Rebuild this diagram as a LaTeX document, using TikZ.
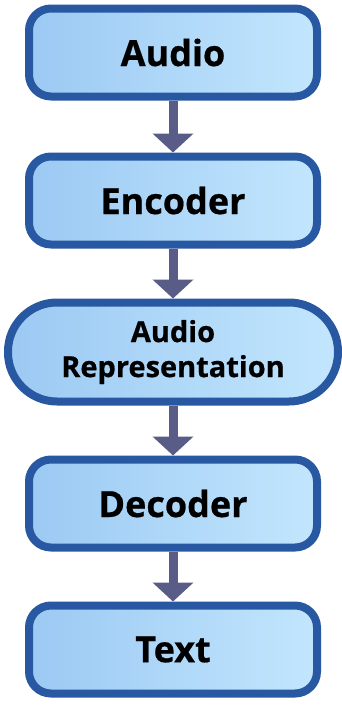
\documentclass[tikz,border=0pt]{standalone}
\usepackage{fontspec}
\setmainfont{Open Sans}[BoldFeatures={FakeBold=0.6}]
\usetikzlibrary{arrows.meta,positioning,shadows}

\definecolor{boxline}{HTML}{2858A2}
\definecolor{fillleft}{HTML}{9CC9F3}
\definecolor{fillright}{HTML}{C2E6FD}
\definecolor{arrowcol}{HTML}{5A5C88}

\begin{document}
\begin{tikzpicture}[
  x=1pt, y=1pt,
  font=\bfseries,
  node distance=50pt,
  stage/.style={
    draw=boxline,
    line width=8pt,
    rounded corners=22pt,
    left color=fillleft,
    right color=fillright,
    minimum width=288pt,
    minimum height=88pt,
    align=center,
    inner sep=0pt,
    font=\fontsize{36}{40}\selectfont\bfseries,
    drop shadow={opacity=0.12, shadow xshift=0pt, shadow yshift=-3pt}
  },
  widestage/.style={
    stage,
    rounded corners=49pt,
    minimum width=330pt,
    minimum height=99pt,
    font=\fontsize{29}{35}\selectfont\bfseries
  },
  flow/.style={-{Triangle[width=40pt,length=19pt]}, line width=9pt, draw=arrowcol}
]
\useasboundingbox (0,0) rectangle (342,-720);

\node[stage] (audio) at (173,-52.5) {Audio};
\node[stage, below=52pt of audio] (enc) {Encoder};
\node[widestage, below=of enc] (rep) {Audio\\Representation};
\node[stage, below=of rep] (dec) {Decoder};
\node[stage, below=of dec] (txt) {Text};

\foreach \a/\b in {audio/enc,enc/rep,rep/dec,dec/txt}
  \draw[flow] (\a) -- (\b);

\end{tikzpicture}
\end{document}
